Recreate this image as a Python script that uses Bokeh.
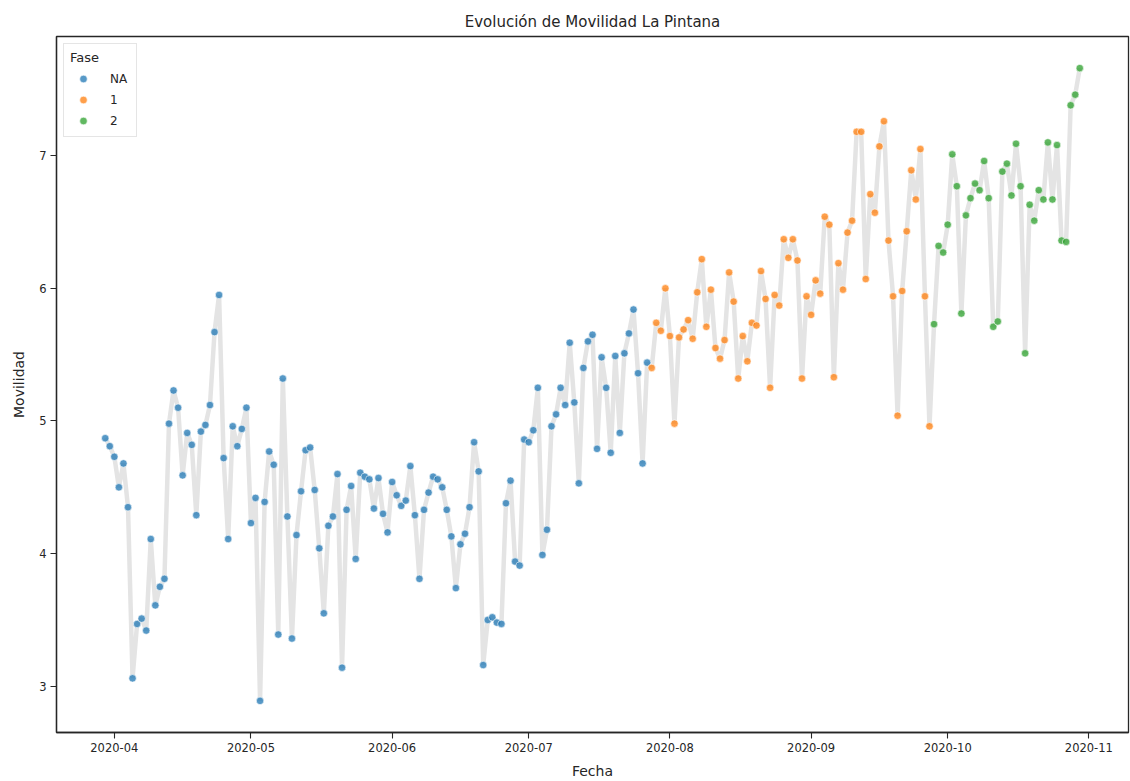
import pandas as pd
from bokeh.plotting import figure
from bokeh.models import FixedTicker, DatetimeTickFormatter, Legend, LegendItem, Range1d
from bokeh.embed import file_html
from bokeh.resources import INLINE

# ---------------- data ----------------
start_date = "2020-03-30"
fase_labels = ["NA", "1", "2"]

movilidad_na = [
    4.87, 4.81, 4.73, 4.50, 4.68, 4.35, 3.06, 3.47, 3.51, 3.42, 4.11, 3.61, 3.75, 3.81,
    4.98, 5.23, 5.10, 4.59, 4.91, 4.82, 4.29, 4.92, 4.97, 5.12, 5.67, 5.95, 4.72, 4.11,
    4.96, 4.81, 4.94, 5.10,
    4.23, 4.42, 2.89, 4.39, 4.77, 4.67, 3.39, 5.32, 4.28, 3.36, 4.14, 4.47, 4.78, 4.80,
    4.48, 4.04, 3.55, 4.21, 4.28, 4.60, 3.14, 4.33, 4.51, 3.96, 4.61, 4.58, 4.56, 4.34,
    4.57, 4.30, 4.16,
    4.54, 4.44, 4.36, 4.40, 4.66, 4.29, 3.81, 4.33, 4.46, 4.58, 4.56, 4.50, 4.33, 4.13,
    3.74, 4.07, 4.15, 4.35, 4.84, 4.62, 3.16, 3.50, 3.52, 3.48, 3.47, 4.38, 4.55, 3.94,
    3.91, 4.86,
    4.84, 4.93, 5.25, 3.99, 4.18, 4.96, 5.05, 5.25, 5.12, 5.59, 5.14, 4.53, 5.40, 5.60,
    5.65, 4.79, 5.48, 5.25, 4.76, 5.49, 4.91, 5.51, 5.66, 5.84, 5.36, 4.68, 5.44,
]
movilidad_f1 = [
    5.40, 5.74, 5.68, 6.00,
    5.64, 4.98, 5.63, 5.69, 5.76, 5.62, 5.97, 6.22, 5.71, 5.99, 5.55, 5.47, 5.61, 6.12,
    5.90, 5.32, 5.64, 5.45, 5.74, 5.72, 6.13, 5.92, 5.25, 5.95, 5.87, 6.37, 6.23, 6.37,
    6.21, 5.32, 5.94,
    5.80, 6.06, 5.96, 6.54, 6.48, 5.33, 6.19, 5.99, 6.42, 6.51, 7.18, 7.18, 6.07, 6.71,
    6.57, 7.07, 7.26, 6.36, 5.94, 5.04, 5.98, 6.43, 6.89, 6.67, 7.05, 5.94, 4.96,
]
movilidad_f2 = [
    5.73, 6.32, 6.27,
    6.48, 7.01, 6.77, 5.81, 6.55, 6.68, 6.79, 6.74, 6.96, 6.68, 5.71, 5.75, 6.88, 6.94,
    6.70, 7.09, 6.77, 5.51, 6.63, 6.51, 6.74, 6.67, 7.10, 6.67, 7.08, 6.36, 6.35, 7.38,
    7.46, 7.66,
]
month_ticks = ["2020-04-01", "2020-05-01", "2020-06-01", "2020-07-01",
               "2020-08-01", "2020-09-01", "2020-10-01", "2020-11-01"]
y_ticks = [3, 4, 5, 6, 7]
palette = ["#1f77b4", "#ff7f0e", "#2ca02c"]

# ---------------- derived ----------------
series = [movilidad_na, movilidad_f1, movilidad_f2]
values = movilidad_na + movilidad_f1 + movilidad_f2
dates = pd.date_range(start_date, periods=len(values), freq="D")

FONT = "DejaVu Sans"
TXT = "#262626"

span = dates[-1] - dates[0]
x0 = dates[0] - span * 0.05
x1 = dates[-1] + span * 0.05
ymin, ymax = min(values), max(values)
yr = ymax - ymin

p = figure(width=1130, height=781, x_axis_type="datetime",
           output_backend="svg", toolbar_location=None,
           x_range=Range1d(x0, x1),
           y_range=Range1d(ymin - 0.05 * yr, ymax + 0.05 * yr),
           min_border_left=56, min_border_right=2,
           min_border_top=36, min_border_bottom=48,
           title="Evolución de Movilidad La Pintana")

p.title.align = "center"
p.title.text_font = FONT
p.title.text_font_size = "15px"
p.title.text_font_style = "normal"
p.title.text_color = TXT
p.title.standoff = 12

p.background_fill_color = "white"
p.border_fill_color = "white"
p.outline_line_color = TXT
p.outline_line_width = 1.3
p.grid.visible = False

p.line(dates, values, line_color="#e4e4e4", line_width=4.5)

renderers = []
start = 0
for vals, col in zip(series, palette):
    d = dates[start:start + len(vals)]
    r = p.scatter(d, vals, size=7.5, fill_color=col, fill_alpha=0.75,
                  line_color="white", line_width=0.6)
    renderers.append(r)
    start += len(vals)

# axes
p.xaxis.ticker = FixedTicker(ticks=[pd.Timestamp(t).value / 1e6 for t in month_ticks])
p.xaxis.formatter = DatetimeTickFormatter(days="%Y-%m", months="%Y-%m", years="%Y-%m")
p.yaxis.ticker = FixedTicker(ticks=y_ticks)
p.xaxis.axis_label = "Fecha"
p.yaxis.axis_label = "Movilidad"

for ax in (p.xaxis, p.yaxis):
    ax.axis_line_color = TXT
    ax.axis_line_width = 1.3
    ax.major_tick_line_color = TXT
    ax.major_tick_line_width = 1.1
    ax.major_tick_out = 6
    ax.major_tick_in = 0
    ax.minor_tick_line_color = None
    ax.major_label_text_font = FONT
    ax.major_label_text_font_size = "11.5px"
    ax.major_label_text_color = TXT
    ax.major_label_standoff = 4
    ax.axis_label_text_font = FONT
    ax.axis_label_text_font_size = "14px"
    ax.axis_label_text_font_style = "normal"
    ax.axis_label_text_color = TXT
p.xaxis.axis_label_standoff = 8
p.yaxis.axis_label_standoff = 9

legend = Legend(items=[LegendItem(label=lab, renderers=[r]) for lab, r in zip(fase_labels, renderers)],
                location="top_left", title="Fase")
legend.title_text_font = FONT
legend.title_text_font_size = "13px"
legend.title_text_font_style = "normal"
legend.title_text_color = TXT
legend.title_standoff = 4
legend.label_text_font = FONT
legend.label_text_font_size = "12px"
legend.label_text_color = TXT
legend.label_standoff = 14
legend.glyph_width = 26
legend.glyph_height = 19
legend.label_height = 19
legend.spacing = 2
legend.padding = 6
legend.margin = 7
legend.border_line_color = "#cccccc"
legend.border_line_width = 1
legend.background_fill_alpha = 0.8
p.add_layout(legend)

open("out.html", "w").write(file_html(p, INLINE))
